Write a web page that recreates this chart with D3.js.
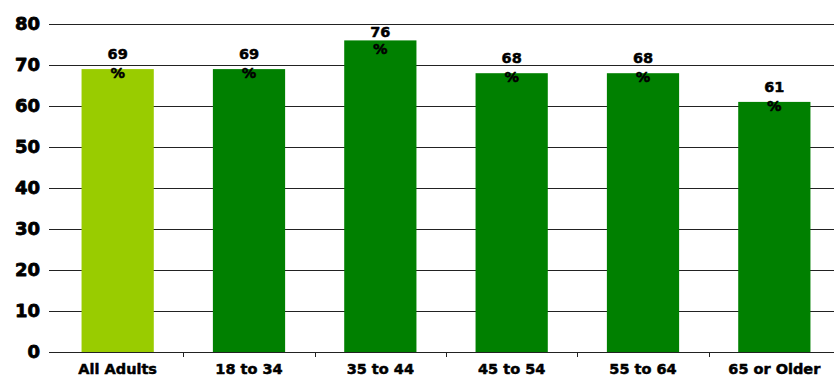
<!DOCTYPE html>
<html>
<head>
<meta charset="utf-8">
<script src="https://cdn.jsdelivr.net/npm/d3@7/dist/d3.min.js"></script>
<style>
  html, body { margin: 0; padding: 0; background: #fff; }
  svg { display: block; }
</style>
</head>
<body>
<svg id="chart" width="834" height="378"></svg>
<script>
// Share of adults, by age group (percent)
const categories = ["All Adults", "18 to 34", "35 to 44", "45 to 54", "55 to 64", "65 or Older"];
const values = [69, 69, 76, 68, 68, 61];
const yTicks = [0, 10, 20, 30, 40, 50, 60, 70, 80];
const barColors = ["#99cc00", "#008000", "#008000", "#008000", "#008000", "#008000"];

const svg = d3.select("#chart");
const W = 834;
const plotLeft = 52, plotRight = 840, plotTop = 24, plotBottom = 352;

const x = d3.scaleBand()
  .domain(categories)
  .range([plotLeft, plotRight])
  .paddingInner(0.45)
  .paddingOuter(0.225);

const y = d3.scaleLinear().domain([0, 80]).range([plotBottom, plotTop]);

// Heavy bold text helper
function heavy(sel, size, weight) {
  return sel.attr("font-family", "DejaVu Sans, sans-serif")
    .attr("font-weight", "bold")
    .attr("font-size", size)
    .attr("fill", "#000")
    .attr("stroke", "#000")
    .attr("stroke-width", weight)
    .attr("stroke-linejoin", "round");
}

// Horizontal gridlines with short left ticks
svg.append("g").selectAll("line")
  .data(yTicks.filter(d => d > 0))
  .join("line")
  .attr("x1", plotLeft - 3).attr("x2", W)
  .attr("y1", d => Math.round(y(d)) + 0.5)
  .attr("y2", d => Math.round(y(d)) + 0.5)
  .attr("stroke", "#222")
  .attr("stroke-width", 1);

// Y tick labels
heavy(svg.append("g").selectAll("text")
  .data(yTicks)
  .join("text")
  .attr("x", 40)
  .attr("y", d => y(d))
  .attr("dy", "0.36em")
  .attr("text-anchor", "end"), 18, 0.8)
  .text(d => d);

// Bars
svg.append("g").selectAll("rect")
  .data(values)
  .join("rect")
  .attr("x", (d, i) => x(categories[i]))
  .attr("width", x.bandwidth())
  .attr("y", d => y(d))
  .attr("height", d => plotBottom - y(d))
  .attr("fill", (d, i) => barColors[i]);

// Baseline and category ticks
svg.append("line")
  .attr("x1", plotLeft - 3).attr("x2", W)
  .attr("y1", plotBottom + 0.5).attr("y2", plotBottom + 0.5)
  .attr("stroke", "#222");
const step = x.step();
svg.append("g").selectAll("line")
  .data(d3.range(1, categories.length))
  .join("line")
  .attr("x1", i => Math.round(plotLeft + i * step) + 0.5)
  .attr("x2", i => Math.round(plotLeft + i * step) + 0.5)
  .attr("y1", plotBottom).attr("y2", plotBottom + 5)
  .attr("stroke", "#222");

// Category labels
heavy(svg.append("g").selectAll("text")
  .data(categories)
  .join("text")
  .attr("x", d => x(d) + x.bandwidth() / 2)
  .attr("y", 374)
  .attr("text-anchor", "middle"), 14.5, 0.5)
  .text(d => d);

// Value labels: number above the bar top, "%" wrapped onto the next line
const labels = svg.append("g");
values.forEach((v, i) => {
  const cx = x(categories[i]) + x.bandwidth() / 2;
  const barTop = y(v);
  const numBase = Math.max(barTop - 10, plotTop + 13);
  const pctBase = Math.max(barTop + 9, numBase + 17);
  const t = heavy(labels.append("text").attr("text-anchor", "middle"), 14.5, 0.5);
  t.append("tspan").attr("x", cx).attr("y", numBase).text(v);
  t.append("tspan").attr("x", cx).attr("y", pctBase).text("%");
});
</script>
</body>
</html>
